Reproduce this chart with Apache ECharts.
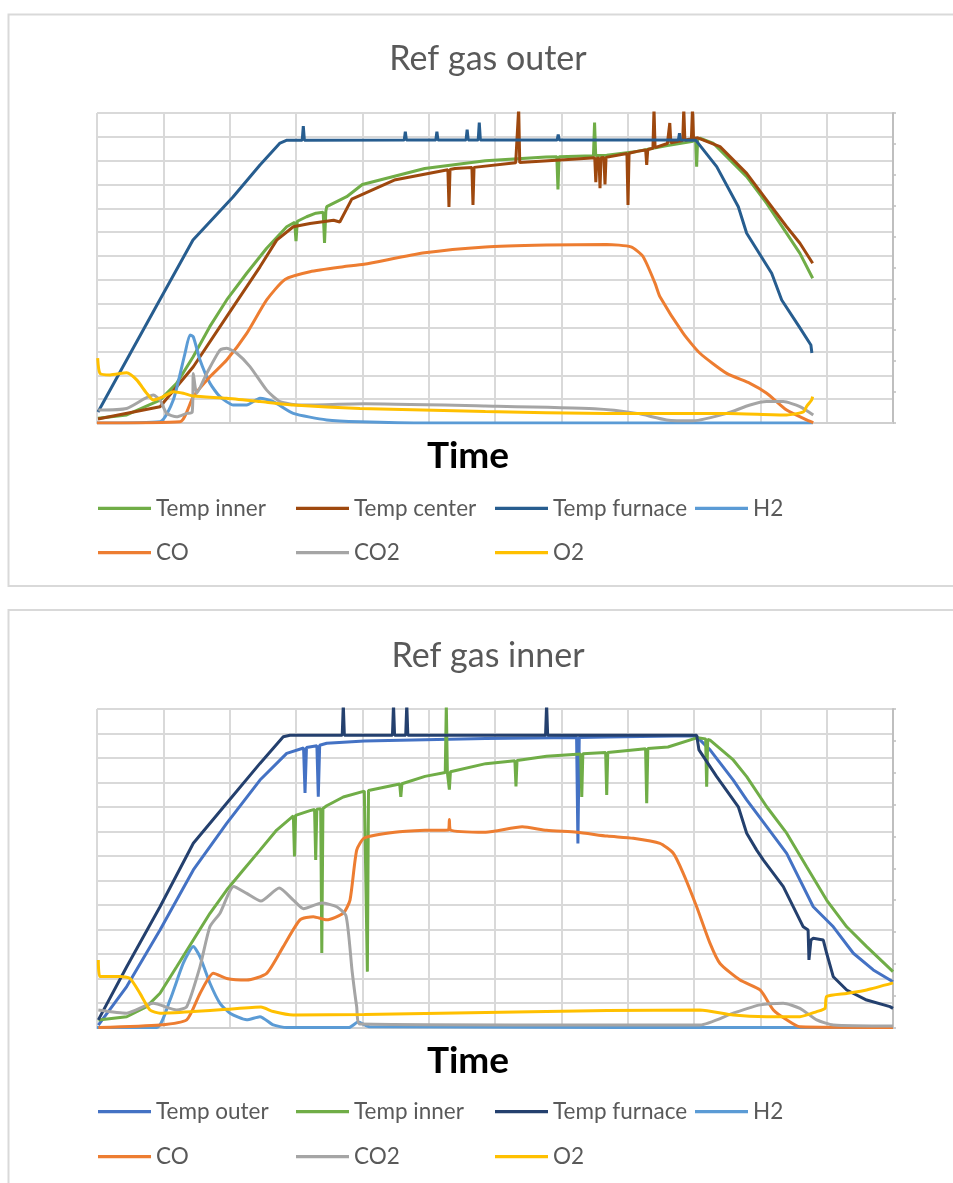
<!DOCTYPE html>
<html>
<head>
<meta charset="utf-8">
<script src="https://cdn.jsdelivr.net/npm/echarts@6/dist/echarts.min.js"></script>
<style>
html,body{margin:0;padding:0;background:#fff;}
#c1{position:absolute;left:0;top:0;width:953px;height:598px;}
#c2{position:absolute;left:0;top:598px;width:953px;height:585px;}
</style>
</head>
<body>
<div id="c1"></div>
<div id="c2"></div>
<script>
// ---------- Panel 1: Ref gas outer (x = time, temps in °C on left axis, gases in % on right axis)
const p1Title = 'Ref gas outer';
const p1Names = ['Temp inner','Temp center','Temp furnace','H2','CO','CO2','O2'];
const p1TempInner = [[1.5,20],[44.8,34],[95,96],[120,166],[145,278],[170,404],[195.5,516],[225.7,628],[255.8,733],[286,823],[298,842],[300,763],[302,846],[316,865],[330,880],[341,884],[343,755],[345,888],[346.3,907],[376.4,949],[400,1000],[494,1067],[585.4,1100],[676.9,1115],[693.2,1117],[694.9,979],[696.6,1117],[748.4,1121],[750.1,1260],[751.8,1122],[768.4,1123],[814,1139],[859.9,1164],[896.5,1180],[902.5,1186],[904,1075],[905.5,1190],[909,1194],[928.6,1174],[979.4,1033],[1009.6,921],[1039.7,795.5],[1059.7,711.6],[1078.9,607]];
const p1TempCenter = [[1.5,17],[95,68],[145.2,236],[195.5,446],[245.7,655],[270.9,767],[295.9,823],[321.1,837],[356.7,850],[366,843],[384.1,939],[448.2,1019],[529,1062],[530.6,906],[532.2,1063],[539.7,1067],[565.2,1071],[566.8,914],[568.4,1072],[631.2,1091],[634.1,1092],[635.7,1320],[637.3,1092],[722.7,1107],[750.4,1112],[752,1010],[753.6,1110],[756.7,1111],[758.3,985],[759.9,1112],[764.2,1113],[765.8,1000],[767.4,1114],[768.4,1115],[798.9,1130],[800.5,914],[802.1,1131],[814,1139],[827.1,1145],[828.7,1082],[830.3,1147],[838.1,1152],[839.7,1320],[841.3,1155],[859.9,1172],[861.9,1174],[863.5,1258],[865.1,1175],[883,1185],[884.6,1320],[886.2,1186],[896.1,1192],[897.7,1320],[899.3,1193],[905.6,1196],[939.2,1159],[979.4,1047],[1009.6,935],[1039.7,823],[1059.7,754],[1078.9,670]];
const p1TempFurnace = [[1.5,46],[34.7,214],[90,493],[144.7,767],[205,948],[245.7,1082],[275.9,1174],[286.4,1186],[309.4,1186],[311,1245],[312.6,1186],[463.2,1187],[464.8,1222],[466.4,1187],[510.8,1187],[512.4,1222],[514,1187],[556.4,1187],[558,1230],[559.6,1187],[574.7,1187],[576.3,1260],[577.9,1187],[693.7,1187],[695.3,1210],[696.9,1187],[876.5,1187],[878.1,1215],[879.7,1187],[902.6,1186],[934.2,1075],[966.8,907],[979.4,795.5],[1017.1,628],[1032.2,516],[1058.5,404],[1076.2,327],[1077.7,293.5]];
const p1H2 = [[0,0],[95,0.4],[115,7.4],[132.7,22.5],[140.2,28.4],[145.2,27.8],[155.3,20.3],[170.3,12.8],[185.4,8.5],[205.5,5.8],[225.7,5.8],[245.7,8],[265.8,6.9],[295.9,3.1],[346.3,1],[396.5,0.4],[500,0],[1079.4,0]];
const p1CO = [[0,0],[125.1,0.4],[145.2,8.5],[170.3,14.9],[195.5,20.3],[225.7,28.9],[255.8,39.7],[283.4,46.3],[321.1,48.8],[371.3,50.4],[402.5,51.2],[494,54.9],[585.4,56.8],[676.9,57.4],[768.4,57.6],[805,56.8],[823.1,53.7],[841.2,45.1],[848.7,40.7],[883.8,28.9],[909,22.5],[949.3,16],[984.4,12.8],[1009.6,9.6],[1039.7,4.2],[1069.8,1],[1079.8,0.1]];
const p1CO2 = [[2,4.2],[44.6,4.7],[84.9,9],[95,7.4],[105,3.1],[120.1,2],[135.2,3.1],[143.5,3.5],[145.2,16],[150.3,9.6],[165.4,16],[185.4,23.5],[195.5,24.1],[210.6,22.5],[230.6,18.2],[255.8,10.6],[275.9,6.9],[306,5.8],[402.5,6.2],[585.4,5.5],[750.1,4.6],[814,3.1],[858.8,1],[898.9,0.7],[949.3,3.1],[984.4,5.8],[1009.6,6.9],[1034.6,6.9],[1059.7,5.3],[1079.8,2.6]];
const p1O2 = [[1,20.9],[4.5,16],[19.6,15.5],[44.8,16.2],[59.8,13.9],[74.9,9.6],[84.9,7.4],[99.9,8.5],[115,10.1],[130.1,9.6],[145.2,8.7],[195.5,8],[245.7,6.9],[295.9,5.8],[396.5,4.7],[585.4,3.7],[768.4,3.1],[951.2,3.1],[1039.7,2.6],[1064.8,3.6],[1070.3,5.5],[1077.3,7.4],[1078.8,8.5]];

// ---------- Panel 2: Ref gas inner
const p2Title = 'Ref gas inner';
const p2Names = ['Temp outer','Temp inner','Temp furnace','H2','CO','CO2','O2'];
const p2TempOuter = [[2,10],[44.8,167],[95,398],[145.2,643],[195.5,833],[245.7,1010],[286,1119],[311.4,1141],[313.6,957],[315.8,1143],[331.5,1150],[333.6,942],[335.7,1152],[346.3,1160],[403,1169],[586.1,1180],[723,1184],[725,751],[727,1184],[769.3,1186],[897,1191],[904,1187],[924.2,1133],[959.2,1010],[979.4,929],[1009.6,820],[1039.7,711],[1079.8,493],[1110,411],[1140.2,303],[1170.3,235],[1200,187]];
const p2TempInner = [[2,31],[44.8,44],[74.9,85],[95,140],[120.1,248],[145.2,357],[170.3,466],[195.5,561],[220.5,643],[245.7,724],[270.9,806],[296,864],[297.7,698],[299.4,866],[321.1,885],[328,890],[329.7,684],[331.4,891],[337.2,893],[338.9,304],[340.6,894],[346.3,905],[371.3,941],[403,965],[405.9,966],[407.6,228],[409.3,967],[456.3,994],[458,941],[459.7,995],[494.5,1025],[525,1041],[526.6,1320],[528.2,1042],[529.6,1043],[531.2,971],[532.8,1044],[586.1,1077],[630,1089],[631.6,984],[633.2,1090],[677.8,1107],[729.2,1116],[730.8,941],[732.4,1117],[766.8,1122],[768.4,949],[770,1122],[827,1138],[828.7,915],[830.4,1139],[860.8,1145],[905.3,1183],[917.5,1178],[919.1,983],[920.7,1176],[924.2,1173],[959.2,1092],[979.4,1024],[1009.6,901],[1039.7,793],[1069.8,656],[1099.9,520],[1130.2,411],[1160.3,330],[1200,228]];
const p2TempFurnace = [[2,31],[44.8,248],[95,493],[145.2,752],[195.5,915],[245.7,1078],[280.8,1187],[290.9,1193],[369.7,1193],[371.3,1320],[372.9,1193],[445.4,1193],[447,1320],[448.6,1193],[465.4,1193],[467,1320],[468.6,1193],[676.2,1193],[677.8,1320],[679.4,1193],[904,1193],[907.5,1133],[934.2,1024],[966.8,901],[979.4,793],[994.5,724],[1004.4,684],[1034.6,575],[1064.7,411],[1072,398],[1073.3,276],[1076.3,357],[1079.8,364],[1094.9,357],[1100,303],[1110,207],[1130.2,153],[1160.3,112],[1195.4,85],[1200,78]];
const p2H2 = [[0,0],[90,0],[110,8.6],[130.1,20.2],[145.2,25.4],[155.3,22.2],[170.3,13.9],[185.4,7.6],[200.5,4.5],[225.7,2.4],[245.7,3.4],[265.8,0.8],[286,0],[380,0],[393.5,1.7],[411.5,0.2],[1200,0]];
const p2CO = [[2,0],[95,0.8],[135.2,2.4],[155.3,10.7],[175.4,17],[195.5,15.4],[225.7,14.9],[255.8,17],[280.8,25.4],[306,33.8],[326.1,34.8],[346.3,33.8],[371.3,35.9],[381.4,40],[391.5,55.7],[403,59.5],[448.8,61.3],[494.5,61.9],[529.6,62],[531.2,65.3],[532.8,62],[586.1,61.3],[641.1,63],[677.8,61.9],[723.6,61.3],[769.3,60.1],[808.5,59.4],[848.7,57.8],[868.8,54.7],[883.8,48.4],[904,37.9],[924.2,26.4],[939.2,20.1],[969.4,14.9],[999.6,11.8],[1019.7,5.5],[1039.7,2.4],[1059.7,0.2],[1200,0]];
const p2CO2 = [[2,5.5],[44.8,4.5],[84.9,7.6],[120.1,5.5],[135.2,6.5],[155.3,19.1],[170.3,31.7],[185.4,35.9],[206.1,44.3],[225.7,42.1],[247.1,39.7],[274.7,43.8],[295.9,40],[311.4,37.3],[338.9,39.1],[361.4,37.9],[375.5,35],[384.7,17.5],[391.5,6.5],[396.5,1.1],[758.3,0.8],[909,0.8],[959.2,4.5],[999.6,7.1],[1034.6,7.6],[1059.7,6],[1085,2.4],[1110,0.8],[1200,0.5]];
const p2O2 = [[2,21.2],[4.5,16],[34.7,16],[49.7,15.4],[64.8,10.7],[79.9,5.5],[95,4.5],[145.2,5],[195.5,5.7],[247.2,6.4],[265.8,5],[295.9,3.9],[403,4.1],[586.1,4.7],[769.3,5.3],[909,5.5],[959.2,3.9],[1009.6,3.4],[1059.7,3.4],[1085,5],[1097.5,6],[1100,9.7],[1130.2,10.7],[1160.3,11.8],[1200,14]];

const xTicks = {min:0, max:1200, interval:100};
const yTempTicks = {min:0, max:1300, interval:100};
const yGasTicks = {min:0, max:100, interval:10};

function buildOption(cfg){
  const legendCols=[98,296,495,695];
  const legends = cfg.names.map((n,i)=>({
    data:[{name:n, icon:'rect'}], left:legendCols[i%4], top:cfg.legendRows[Math.floor(i/4)]-12,
    padding:0, itemWidth:53, itemHeight:3.2, itemGap:0, selectedMode:false,
    textStyle:{fontFamily:'Lato', fontSize:22.5, color:'#595959', lineHeight:24}
  }));
  const series = cfg.names.map((n,i)=>({
    name:n, type:'line', data:cfg.data[i], yAxisIndex: cfg.gas[i]?1:0,
    symbol:'none', showSymbol:false, smooth: cfg.gas[i]?0.2:false, clip:true,
    lineStyle:{color:cfg.colors[i], width:3}, itemStyle:{color:cfg.colors[i]},
    emphasis:{disabled:true}
  }));
  return {
    animation:false,
    backgroundColor:'#ffffff',
    grid:{left:97, top:cfg.gridTop, width:796, height:cfg.gridH, containLabel:false},
    xAxis:{type:'value', min:xTicks.min, max:xTicks.max, interval:xTicks.interval,
      axisLine:{show:true, onZero:false, lineStyle:{color:'#cfcfcf', width:2}},
      axisTick:{show:false}, axisLabel:{show:false},
      splitLine:{show:true, lineStyle:{color:'#d9d9d9', width:2}}},
    yAxis:[
      {type:'value', min:yTempTicks.min, max:yTempTicks.max, interval:yTempTicks.interval, position:'left',
        axisLine:{show:false}, axisTick:{show:false}, axisLabel:{show:false},
        splitLine:{show:true, lineStyle:{color:'#d9d9d9', width:2}}},
      {type:'value', min:yGasTicks.min, max:yGasTicks.max, interval:yGasTicks.interval, position:'right',
        axisLine:{show:true, lineStyle:{color:'#bfbfbf', width:2}},
        axisTick:{show:true, inside:false, length:3, lineStyle:{color:'#bfbfbf', width:1.5}},
        axisLabel:{show:false}, splitLine:{show:false}}
    ],
    legend:legends,
    graphic:[
      {type:'rect', shape:{x:8.5, y:cfg.boxTop, width:960, height:cfg.boxH}, style:{fill:'none', stroke:'#d9d9d9', lineWidth:2}, silent:true, z:-1},
      {type:'text', x:488, y:cfg.titleY, style:{text:cfg.title, font:'34px Lato', fill:'#595959', textAlign:'center', textVerticalAlign:'middle'}},
      {type:'text', x:468, y:cfg.timeY, style:{text:'Time', font:'bold 37px Lato', fill:'#000000', textAlign:'center', textVerticalAlign:'middle'}}
    ],
    series:series
  };
}

const c1 = echarts.init(document.getElementById('c1'), null, {renderer:'canvas'});
c1.setOption(buildOption({
  title:p1Title, names:p1Names,
  data:[p1TempInner,p1TempCenter,p1TempFurnace,p1H2,p1CO,p1CO2,p1O2],
  colors:['#70ad47','#9e480e','#275d8f','#5b9bd5','#ed7d31','#a5a5a5','#ffc000'],
  gas:[false,false,false,true,true,true,true],
  gridTop:113, gridH:310, boxTop:14.5, boxH:571.5, titleY:59.5, timeY:456.5, legendRows:[508.3,552.7]
}));
const c2 = echarts.init(document.getElementById('c2'), null, {renderer:'canvas'});
c2.setOption(buildOption({
  title:p2Title, names:p2Names,
  data:[p2TempOuter,p2TempInner,p2TempFurnace,p2H2,p2CO,p2CO2,p2O2],
  colors:['#4472c4','#70ad47','#24406e','#5b9bd5','#ed7d31','#a5a5a5','#ffc000'],
  gas:[false,false,false,true,true,true,true],
  gridTop:111, gridH:318.5, boxTop:12, boxH:600, titleY:58, timeY:463.5, legendRows:[513.7,558.7]
}));
</script>
</body>
</html>
